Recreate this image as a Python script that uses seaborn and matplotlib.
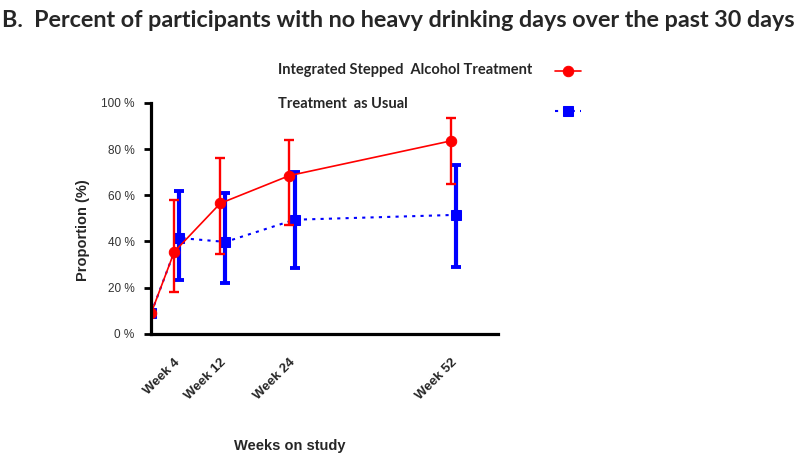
import matplotlib
matplotlib.use('Agg')
import matplotlib.pyplot as plt
import numpy as np
import pandas as pd
import seaborn as sns

# data
weeks = [0, 4, 12, 24, 52]
isat_mean = [9, 35.5, 56.5, 68.5, 83.5]
isat_low = [9, 18, 34.5, 47, 65]
isat_high = [9, 58, 76, 84, 93.5]
tau_mean = [9, 41.5, 39.8, 49.4, 51.5]
tau_low = [9, 23.4, 22, 28.7, 29]
tau_high = [9, 62, 61, 70, 73.2]

tick_weeks = [4, 12, 24, 52]
tick_labels = ['Week 4', 'Week 12', 'Week 24', 'Week 52']
ytick_vals = [0, 20, 40, 60, 80, 100]
ytick_labels = ['0 %', '20 %', '40 %', '60 %', '80 %', '100 %']

lab_isat = 'Integrated Stepped  Alcohol Treatment'
lab_tau = 'Treatment  as Usual'

# small dodge so the bars don't sit on top of each other
dodge = 0.9
tau_x = [w + (dodge if w > 0 else 0) for w in weeks]

df_isat = pd.DataFrame({'week': weeks, 'p': isat_mean})
df_tau = pd.DataFrame({'week': tau_x, 'p': tau_mean})

sns.set_style("white")
plt.rcParams['font.family'] = ['Liberation Sans', 'DejaVu Sans']

fig = plt.figure(figsize=(8, 4.53), dpi=100)
ax = fig.add_axes([0.189, 0.263, 0.434, 0.51])

# TAU (blue, dotted)
ax.errorbar(tau_x[1:], tau_mean[1:],
            yerr=[np.subtract(tau_mean, tau_low)[1:], np.subtract(tau_high, tau_mean)[1:]],
            fmt='none', ecolor='#0000ff', elinewidth=3, capsize=3.3, capthick=2.8, zorder=2)
sns.lineplot(x='week', y='p', data=df_tau, ax=ax, color='#0000ff', linestyle=(0, (1.5, 2.5)),
             linewidth=1.5, marker='s', markersize=7.5, markeredgecolor='#0000ff',
             label=lab_tau, zorder=3)

# ISAT (red, solid)
ax.errorbar(weeks[1:], isat_mean[1:],
            yerr=[np.subtract(isat_mean, isat_low)[1:], np.subtract(isat_high, isat_mean)[1:]],
            fmt='none', ecolor='#ff0000', elinewidth=1.7, capsize=3.3, capthick=1.7, zorder=4)
sns.lineplot(x='week', y='p', data=df_isat, ax=ax, color='#ff0000', linewidth=1.2,
             marker='o', markersize=7.5, markeredgecolor='#ff0000',
             label=lab_isat, zorder=5)

ax.set_xlim(0, 60.3)
ax.set_ylim(0, 100)
ax.set_yticks(ytick_vals)
ax.set_yticklabels(ytick_labels, fontsize=8.5, color='#333333')
ax.set_xticks(tick_weeks)
ax.set_xticklabels(tick_labels, rotation=45, ha='right', rotation_mode='anchor',
                   fontsize=9.5, fontweight='bold')
ax.tick_params(axis='x', length=0, pad=16)
ax.tick_params(axis='y', length=5, width=2, direction='out', color='black', pad=7, left=True)

for s in ['top', 'right']:
    ax.spines[s].set_visible(False)
for s in ['left', 'bottom']:
    ax.spines[s].set_linewidth(2.3)
    ax.spines[s].set_color('black')
ax.spines['left'].set_zorder(6)

ax.set_ylabel('Proportion (%)', fontsize=10.5, fontweight='bold')
ax.yaxis.set_label_coords(-0.175, 0.45)
ax.set_xlabel('Weeks on study', fontsize=10.5, fontweight='bold')
ax.xaxis.set_label_coords(0.40, -0.455)

# legend: labels on the left, handles in a column on the right
handles, labels = ax.get_legend_handles_labels()
ax.get_legend().remove()
order = [labels.index(lab_isat), labels.index(lab_tau)]
fig.legend([handles[i] for i in order], ['', ''],
           loc='upper left', bbox_to_anchor=(0.677, 0.885), frameon=False,
           handlelength=1.8, handletextpad=0, labelspacing=1.75, fontsize=10.5)
legend_font = dict(family='Lato', fontweight='bold', fontsize=10.5, ha='left', va='center')
fig.text(0.3475, 1 - 70 / 453, lab_isat, **legend_font)
fig.text(0.3475, 1 - 104 / 453, lab_tau, **legend_font)

fig.text(0.003, 0.955, 'B.  Percent of participants with no heavy drinking days over the past 30 days',
         fontsize=16.8, fontweight='bold', family='Lato', ha='left', va='center')

fig.savefig('out.png', dpi=100)
